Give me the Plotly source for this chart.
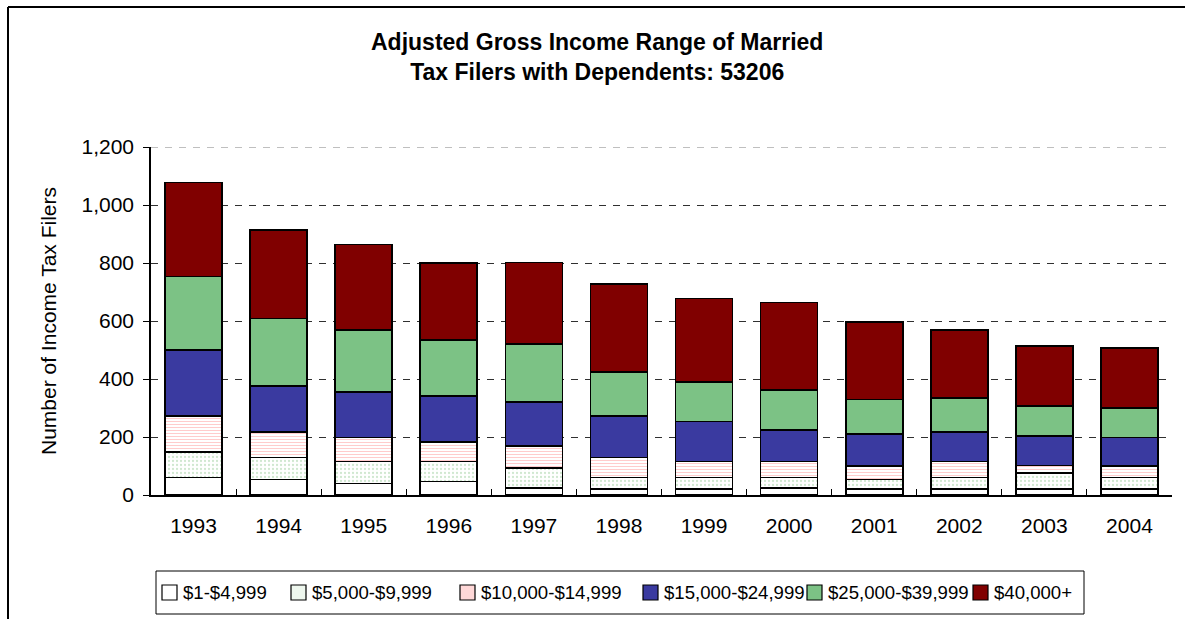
import plotly.graph_objects as go

years = ["1993", "1994", "1995", "1996", "1997", "1998", "1999", "2000", "2001", "2002", "2003", "2004"]
series_names = ["$1-$4,999", "$5,000-$9,999", "$10,000-$14,999", "$15,000-$24,999", "$25,000-$39,999", "$40,000+"]
agi_1_4999 = [60, 53, 40, 47, 25, 20, 20, 25, 20, 20, 20, 20]
agi_5000_9999 = [88, 77, 75, 68, 69, 40, 40, 35, 33, 40, 55, 40]
agi_10000_14999 = [124, 88, 83, 68, 76, 69, 55, 55, 48, 55, 27, 41]
agi_15000_24999 = [228, 158, 158, 159, 151, 143, 138, 110, 109, 102, 101, 97]
agi_25000_39999 = [254, 233, 212, 192, 200, 152, 136, 138, 119, 117, 103, 103]
agi_40000_plus = [323, 304, 296, 267, 281, 304, 289, 301, 268, 235, 208, 206]
y_ticks = [0, 200, 400, 600, 800, 1000, 1200]

FONT = "Liberation Sans, Arial, sans-serif"

# figure geometry (page body margin is removed by post_script)
W, H = 1185, 619
L, R, T, B = 151, 1172, 147, 495


def px(xp):
    return (xp - L) / (R - L)


def py(yp):
    return (B - yp) / (B - T)


series_values = [agi_1_4999, agi_5000_9999, agi_10000_14999,
                 agi_15000_24999, agi_25000_39999, agi_40000_plus]
styles = [
    dict(color="white"),
    dict(color="white", pattern=dict(shape=".", fgcolor="#9fcf9f", bgcolor="white", size=4, solidity=0.25)),
    dict(color="white", pattern=dict(shape="-", fgcolor="#ff9a9a", bgcolor="white", size=3, solidity=0.35)),
    dict(color="#3a3aa0"),
    dict(color="#7cc285"),
    dict(color="#800000"),
]
legend_fill = ["white", "#eef7ee", "#ffd8d8", "#3a3aa0", "#7cc285", "#800000"]
legend_sym_x = [162, 291, 460, 643, 807, 973]

fig = go.Figure()
for name, vals, st in zip(series_names, series_values, styles):
    marker = dict(line=dict(color="black", width=1.6))
    marker.update(st)
    fig.add_trace(go.Bar(x=years, y=vals, name=name, marker=marker, showlegend=False))

annotations = [
    dict(text="<b>Adjusted Gross Income Range of Married<br>Tax Filers with Dependents: 53206</b>",
         xref="paper", yref="paper", x=px(597), y=py(57),
         xanchor="center", yanchor="middle", showarrow=False,
         font=dict(family=FONT, size=23, color="black")),
    dict(text="Number of Income Tax Filers", textangle=-90,
         xref="paper", yref="paper", x=px(48), y=0.5,
         xanchor="center", yanchor="middle", showarrow=False,
         font=dict(family=FONT, size=21, color="black")),
]
shapes = [
    # outer chart border (left and top edges)
    dict(type="line", xref="paper", yref="paper",
         x0=px(8), x1=px(8), y0=py(640), y1=py(7),
         line=dict(color="black", width=2)),
    dict(type="line", xref="paper", yref="paper",
         x0=px(8), x1=px(1200), y0=py(7), y1=py(7),
         line=dict(color="black", width=2)),
    # top gridline at 1,200
    dict(type="line", xref="paper", yref="y", x0=0, x1=1, y0=1200, y1=1200,
         line=dict(color="#808080", width=1, dash="7px,7px")),
    # legend box
    dict(type="rect", xref="paper", yref="paper",
         x0=px(156), x1=px(1084), y0=py(614), y1=py(571),
         line=dict(color="black", width=1), fillcolor="white"),
]
for name, fill, sx in zip(series_names, legend_fill, legend_sym_x):
    shapes.append(dict(type="rect", xref="paper", yref="paper",
                       x0=px(sx), x1=px(sx + 15), y0=py(600), y1=py(585),
                       line=dict(color="black", width=1.2), fillcolor=fill))
    annotations.append(dict(text=name, xref="paper", yref="paper",
                            x=px(sx + 19), y=py(592.5), xanchor="left", yanchor="middle",
                            showarrow=False,
                            font=dict(family=FONT, size=18.6, color="black")))

fig.update_layout(
    width=W, height=H,
    barmode="stack", bargap=0.33,
    paper_bgcolor="white", plot_bgcolor="white",
    margin=dict(l=L, r=W - R, t=T, b=H - B),
    font=dict(family=FONT, size=21, color="black"),
    showlegend=False,
    xaxis=dict(
        type="category", showline=True, linecolor="black", linewidth=1.5,
        ticks="inside", ticklen=6, tickcolor="black", tickson="boundaries",
        showgrid=False, tickfont=dict(size=21, family=FONT),
        ticklabelstandoff=11,
    ),
    yaxis=dict(
        range=[0, 1200], tickvals=y_ticks, tickformat=",d",
        showline=True, linecolor="black", linewidth=1.5,
        ticks="outside", ticklen=6, tickcolor="black",
        showgrid=True, gridcolor="#303030", gridwidth=1, griddash="7px,7px",
        zeroline=False, tickfont=dict(size=21, family=FONT),
        ticklabelstandoff=5,
    ),
    annotations=annotations,
    shapes=shapes,
)

fig.write_html("out.html", config={"displayModeBar": False},
               post_script="document.body.style.margin='0';")
